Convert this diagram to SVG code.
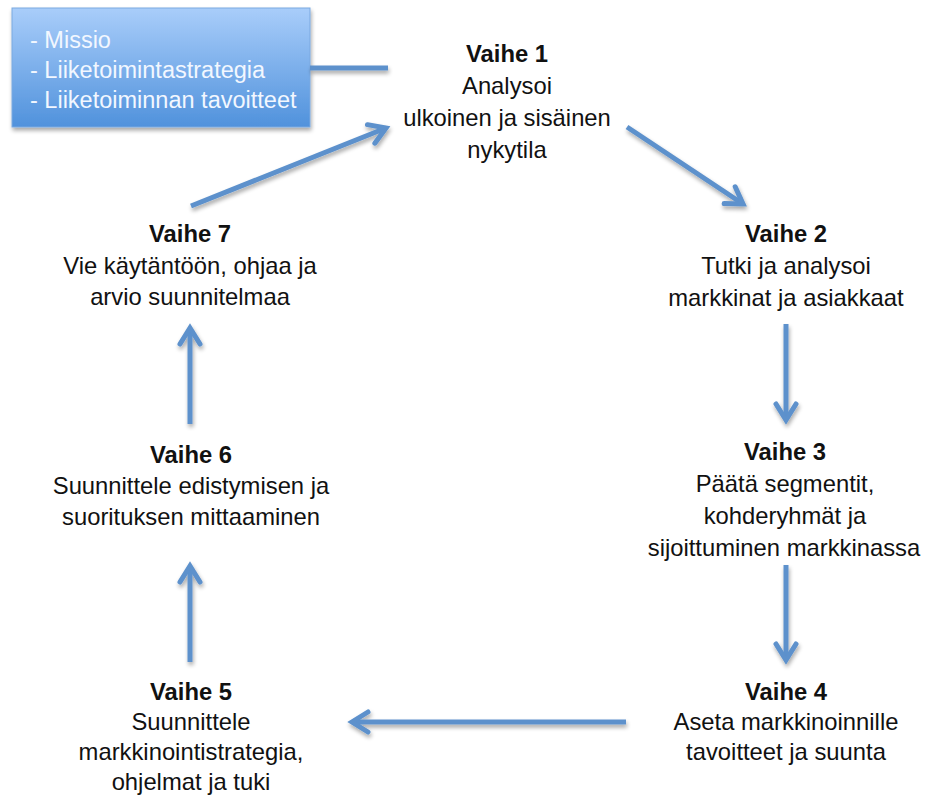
<svg xmlns="http://www.w3.org/2000/svg" width="928" height="796" viewBox="0 0 928 796">
  <defs>
    <linearGradient id="boxFill" x1="0" y1="0" x2="0" y2="1">
      <stop offset="0" stop-color="#a9cdfa"/>
      <stop offset="1" stop-color="#5092dc"/>
    </linearGradient>
    <filter id="shadow" x="-20%" y="-20%" width="140%" height="150%">
      <feGaussianBlur in="SourceAlpha" stdDeviation="2"/>
      <feOffset dx="1" dy="3" result="b"/>
      <feComponentTransfer><feFuncA type="linear" slope="0.35"/></feComponentTransfer>
      <feMerge><feMergeNode/><feMergeNode in="SourceGraphic"/></feMerge>
    </filter>
    <marker id="head" markerUnits="userSpaceOnUse" markerWidth="40" markerHeight="40" refX="0" refY="0" viewBox="-20 -20 40 40" orient="auto" overflow="visible">
      <path d="M -16,-10 L 0,0 L -16,10" fill="none" stroke="#5d91cc" stroke-width="5" stroke-linecap="round" stroke-linejoin="miter"/>
    </marker>
  </defs>
  <style>
    text { font-family: "Liberation Sans", Arial, sans-serif; font-size: 23.8px; fill: #111; text-anchor: middle; }
    .title { font-weight: bold; }
    .box text { fill: #f2f7ff; text-anchor: start; font-size: 23.5px; }
    .conn line { stroke: #5d91cc; stroke-width: 5; fill: none; }
  </style>

  <rect width="928" height="796" fill="#ffffff"/>

  <!-- Strategy box -->
  <g id="box" class="box">
    <rect x="12" y="8" width="298" height="119" fill="url(#boxFill)" stroke="#7aa9e0" stroke-width="1" filter="url(#shadow)"/>
    <text x="30" y="48">- Missio</text>
    <text x="30" y="78">- Liiketoimintastrategia</text>
    <text x="30" y="108">- Liiketoiminnan tavoitteet</text>
  </g>

  <!-- Connectors -->
  <g id="connectors" class="conn" filter="url(#shadow)">
    <line x1="310" y1="68" x2="388" y2="68"/>
    <line x1="191" y1="206" x2="386" y2="128" marker-end="url(#head)"/>
    <line x1="627" y1="127" x2="743" y2="204" marker-end="url(#head)"/>
    <line x1="786" y1="324" x2="786" y2="420" marker-end="url(#head)"/>
    <line x1="786" y1="565" x2="786" y2="660" marker-end="url(#head)"/>
    <line x1="626" y1="722" x2="352" y2="722" marker-end="url(#head)"/>
    <line x1="190" y1="662" x2="190" y2="566" marker-end="url(#head)"/>
    <line x1="190" y1="424" x2="190" y2="328" marker-end="url(#head)"/>
  </g>

  <g id="vaihe1">
    <text class="title" x="507" y="62">Vaihe 1</text>
    <text x="507" y="94">Analysoi</text>
    <text x="507" y="126">ulkoinen ja sisäinen</text>
    <text x="507" y="158">nykytila</text>
  </g>

  <g id="vaihe2">
    <text class="title" x="786" y="242">Vaihe 2</text>
    <text x="786" y="274">Tutki ja analysoi</text>
    <text x="786" y="306">markkinat ja asiakkaat</text>
  </g>

  <g id="vaihe3">
    <text class="title" x="785" y="460">Vaihe 3</text>
    <text x="785" y="492">Päätä segmentit,</text>
    <text x="785" y="524">kohderyhmät ja</text>
    <text x="784" y="556">sijoittuminen markkinassa</text>
  </g>

  <g id="vaihe4">
    <text class="title" x="786" y="700">Vaihe 4</text>
    <text x="786" y="730">Aseta markkinoinnille</text>
    <text x="786" y="760">tavoitteet ja suunta</text>
  </g>

  <g id="vaihe5">
    <text class="title" x="191" y="700">Vaihe 5</text>
    <text x="191" y="730">Suunnittele</text>
    <text x="191" y="760">markkinointistrategia,</text>
    <text x="191" y="790">ohjelmat ja tuki</text>
  </g>

  <g id="vaihe6">
    <text class="title" x="191" y="463">Vaihe 6</text>
    <text x="191" y="494">Suunnittele edistymisen ja</text>
    <text x="191" y="525">suorituksen mittaaminen</text>
  </g>

  <g id="vaihe7">
    <text class="title" x="190" y="242">Vaihe 7</text>
    <text x="190" y="274">Vie käytäntöön, ohjaa ja</text>
    <text x="190" y="305">arvio suunnitelmaa</text>
  </g>
</svg>
